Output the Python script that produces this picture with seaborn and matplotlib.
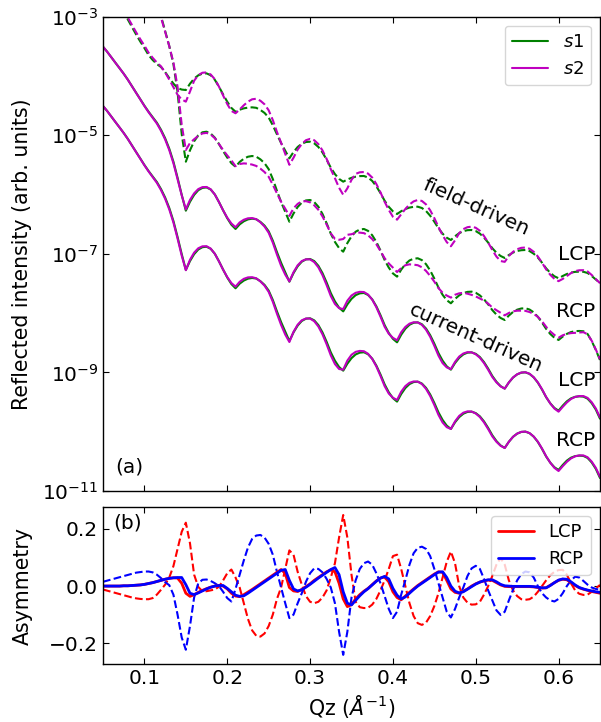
import numpy as np
import matplotlib
matplotlib.use("Agg")
import matplotlib.pyplot as plt
import seaborn as sns
from matplotlib.ticker import NullLocator

# Qz grid (1/Angstrom), 0.005 steps
qz = np.linspace(0.05, 0.65, 121)

# log10 of reflected intensity, state s1 (as plotted, stacked for clarity)
field_lcp_s1 = [
    -2.246, -2.381, -2.516, -2.651, -2.777, -2.904, -3.047, -3.174, -3.300, -3.418,
    -3.528, -3.646, -3.730, -3.798, -3.848, -3.933, -4.034, -4.127, -4.202, -4.228,
    -4.236, -4.130, -4.044, -3.988, -3.960, -3.955, -3.987, -4.064, -4.180, -4.310,
    -4.433, -4.538, -4.602, -4.568, -4.545, -4.533, -4.528, -4.536, -4.572, -4.622,
    -4.700, -4.830, -4.983, -5.130, -5.260, -5.388, -5.282, -5.197, -5.142, -5.113,
    -5.108, -5.135, -5.196, -5.290, -5.411, -5.546, -5.654, -5.735, -5.782, -5.745,
    -5.717, -5.698, -5.688, -5.686, -5.712, -5.769, -5.860, -5.975, -6.103, -6.206,
    -6.282, -6.327, -6.280, -6.243, -6.219, -6.206, -6.204, -6.226, -6.277, -6.356,
    -6.457, -6.568, -6.659, -6.727, -6.766, -6.702, -6.651, -6.617, -6.600, -6.597,
    -6.615, -6.658, -6.725, -6.809, -6.904, -6.980, -7.035, -7.069, -7.019, -6.978,
    -6.951, -6.938, -6.934, -6.953, -6.997, -7.062, -7.148, -7.244, -7.320, -7.378,
    -7.411, -7.373, -7.339, -7.315, -7.303, -7.300, -7.302, -7.322, -7.373, -7.432,
    -7.491]

field_rcp_s1 = [
    -1.167, -1.235, -1.319, -1.403, -1.487, -1.589, -1.690, -1.808, -1.926, -2.061,
    -2.213, -2.381, -2.567, -2.769, -2.988, -3.241, -3.494, -3.798, -4.270, -4.978,
    -5.445, -5.253, -5.101, -5.000, -4.949, -4.939, -4.970, -5.040, -5.147, -5.265,
    -5.376, -5.470, -5.530, -5.449, -5.395, -5.361, -5.349, -5.361, -5.405, -5.470,
    -5.570, -5.737, -5.936, -6.125, -6.290, -6.457, -6.319, -6.209, -6.135, -6.098,
    -6.091, -6.126, -6.204, -6.327, -6.484, -6.658, -6.798, -6.902, -6.963, -6.818,
    -6.703, -6.626, -6.589, -6.580, -6.612, -6.685, -6.798, -6.943, -7.103, -7.231,
    -7.329, -7.384, -7.266, -7.174, -7.111, -7.081, -7.074, -7.105, -7.174, -7.280,
    -7.416, -7.568, -7.690, -7.781, -7.833, -7.759, -7.700, -7.661, -7.641, -7.637,
    -7.656, -7.700, -7.766, -7.852, -7.948, -8.024, -8.081, -8.115, -8.040, -7.980,
    -7.941, -7.921, -7.917, -7.939, -7.986, -8.062, -8.158, -8.265, -8.351, -8.415,
    -8.452, -8.395, -8.349, -8.319, -8.303, -8.300, -8.305, -8.351, -8.469, -8.621,
    -8.789]

# current-driven s1 (RCP as plotted; LCP shifted up one decade)
current_s1 = [
    -4.506, -4.590, -4.683, -4.776, -4.868, -4.961, -5.062, -5.172, -5.282, -5.391,
    -5.501, -5.602, -5.695, -5.787, -5.906, -6.049, -6.226, -6.445, -6.715, -7.002,
    -7.271, -7.121, -7.005, -6.926, -6.887, -6.879, -6.914, -6.998, -7.125, -7.265,
    -7.398, -7.509, -7.580, -7.502, -7.450, -7.418, -7.406, -7.416, -7.460, -7.523,
    -7.619, -7.777, -7.970, -8.150, -8.310, -8.469, -8.324, -8.209, -8.131, -8.093,
    -8.086, -8.121, -8.201, -8.325, -8.484, -8.661, -8.801, -8.907, -8.970, -8.852,
    -8.759, -8.696, -8.666, -8.659, -8.693, -8.767, -8.884, -9.034, -9.201, -9.334,
    -9.433, -9.492, -9.364, -9.263, -9.196, -9.162, -9.155, -9.187, -9.260, -9.371,
    -9.514, -9.673, -9.801, -9.897, -9.953, -9.841, -9.754, -9.696, -9.666, -9.661,
    -9.686, -9.740, -9.826, -9.936, -10.059, -10.157, -10.231, -10.273, -10.169, -10.086,
    -10.032, -10.003, -9.998, -10.024, -10.083, -10.172, -10.288, -10.418, -10.521, -10.599,
    -10.644, -10.560, -10.487, -10.437, -10.411, -10.403, -10.408, -10.442, -10.518, -10.627,
    -10.779]
current_lcp_shift = 10.0

# asymmetry (s1 - s2) / (s1 + s2)
asym_field_lcp = [
    -0.012, -0.016, -0.020, -0.024, -0.028, -0.032, -0.036, -0.040, -0.043, -0.045,
    -0.046, -0.046, -0.042, -0.030, -0.013, 0.005, 0.030, 0.070, 0.130, 0.190,
    0.222, 0.150, 0.040, -0.003, -0.018, -0.018, -0.015, -0.012, -0.002, 0.020,
    0.045, 0.058, 0.030, -0.005, -0.060, -0.115, -0.155, -0.174, -0.177, -0.166,
    -0.140, -0.100, -0.045, -0.005, 0.060, 0.125, 0.110, 0.050, 0.005, -0.035,
    -0.055, -0.060, -0.055, -0.040, -0.015, 0.030, 0.080, 0.170, 0.249, 0.170,
    0.040, -0.055, -0.074, -0.077, -0.076, -0.065, -0.045, -0.015, 0.020, 0.060,
    0.105, 0.110, 0.060, 0.000, -0.060, -0.105, -0.130, -0.136, -0.128, -0.105,
    -0.070, -0.025, 0.030, 0.085, 0.121, 0.080, 0.000, -0.040, -0.058, -0.065,
    -0.064, -0.055, -0.030, 0.000, 0.035, 0.075, 0.098, 0.075, 0.020, -0.015,
    -0.035, -0.046, -0.048, -0.046, -0.037, -0.020, 0.000, 0.020, 0.038, 0.050,
    0.056, 0.057, 0.040, 0.010, -0.015, -0.027, -0.031, -0.030, -0.020, -0.008,
    0.004]

asym_field_rcp = [
    0.015, 0.019, 0.023, 0.027, 0.031, 0.035, 0.039, 0.043, 0.047, 0.049,
    0.051, 0.051, 0.048, 0.040, 0.028, 0.014, 0.003, -0.030, -0.100, -0.180,
    -0.223, -0.140, -0.040, 0.010, 0.022, 0.023, 0.018, 0.010, 0.000, -0.020,
    -0.042, -0.054, -0.010, 0.040, 0.090, 0.135, 0.165, 0.177, 0.179, 0.170,
    0.148, 0.110, 0.050, -0.005, -0.060, -0.112, -0.100, -0.060, -0.025, 0.015,
    0.045, 0.062, 0.060, 0.048, 0.025, -0.005, -0.060, -0.160, -0.241, -0.160,
    -0.040, 0.020, 0.060, 0.080, 0.086, 0.075, 0.045, 0.010, -0.035, -0.080,
    -0.112, -0.090, -0.030, 0.020, 0.075, 0.115, 0.134, 0.138, 0.130, 0.105,
    0.060, 0.010, -0.040, -0.090, -0.110, -0.080, -0.040, -0.005, 0.035, 0.062,
    0.071, 0.060, 0.025, -0.015, -0.050, -0.085, -0.101, -0.090, -0.050, -0.013,
    0.020, 0.042, 0.051, 0.048, 0.030, 0.000, -0.025, -0.040, -0.050, -0.054,
    -0.045, -0.025, 0.000, 0.020, 0.033, 0.030, 0.018, 0.005, -0.005, -0.010,
    -0.013]

asym_current_lcp = [
    0.000, 0.000, 0.000, 0.000, 0.000, 0.001, 0.001, 0.002, 0.003, 0.004,
    0.006, 0.009, 0.012, 0.016, 0.020, 0.024, 0.027, 0.029, 0.028, 0.010,
    -0.025, -0.036, -0.030, -0.022, -0.015, -0.009, -0.004, 0.000, 0.002, 0.000,
    -0.010, -0.025, -0.035, -0.037, -0.030, -0.021, -0.012, -0.002, 0.008, 0.018,
    0.028, 0.038, 0.048, 0.058, 0.045, -0.005, -0.017, -0.019, -0.012, -0.002,
    0.008, 0.020, 0.030, 0.040, 0.050, 0.057, 0.050, 0.010, -0.045, -0.072,
    -0.065, -0.045, -0.030, -0.018, -0.008, 0.005, 0.018, 0.028, 0.032, 0.015,
    -0.020, -0.040, -0.048, -0.035, -0.022, -0.010, 0.002, 0.012, 0.022, 0.032,
    0.042, 0.050, 0.048, 0.020, -0.010, -0.022, -0.025, -0.018, -0.010, 0.000,
    0.008, 0.014, 0.018, 0.021, 0.020, 0.012, 0.004, -0.001, -0.002, -0.002,
    -0.002, -0.002, -0.002, -0.002, -0.003, -0.005, -0.007, -0.006, 0.003, 0.012,
    0.020, 0.024, 0.022, 0.012, 0.002, -0.006, -0.011, -0.015, -0.019, -0.022,
    -0.025]

asym_current_rcp = [
    0.000, 0.000, 0.000, 0.000, 0.000, 0.001, 0.001, 0.002, 0.003, 0.004,
    0.006, 0.009, 0.012, 0.016, 0.020, 0.024, 0.027, 0.029, 0.030, 0.030,
    0.005, -0.025, -0.030, -0.024, -0.017, -0.010, -0.004, 0.000, 0.002, 0.002,
    -0.008, -0.020, -0.032, -0.036, -0.034, -0.025, -0.015, -0.005, 0.005, 0.015,
    0.025, 0.035, 0.045, 0.055, 0.058, 0.020, -0.010, -0.017, -0.013, -0.004,
    0.006, 0.017, 0.028, 0.038, 0.048, 0.058, 0.065, 0.040, -0.020, -0.060,
    -0.066, -0.050, -0.034, -0.020, -0.009, 0.004, 0.017, 0.028, 0.034, 0.025,
    -0.008, -0.032, -0.045, -0.038, -0.025, -0.012, 0.000, 0.010, 0.020, 0.030,
    0.040, 0.049, 0.050, 0.030, 0.000, -0.018, -0.024, -0.020, -0.011, -0.002,
    0.007, 0.014, 0.019, 0.022, 0.022, 0.015, 0.006, 0.001, 0.000, -0.001,
    -0.001, -0.001, -0.001, -0.001, -0.002, -0.004, -0.006, -0.006, 0.002, 0.012,
    0.021, 0.025, 0.024, 0.015, 0.004, -0.005, -0.010, -0.014, -0.017, -0.020,
    -0.022]


def pair(log_s1, asym, shift=1.0):
    s1 = shift * 10 ** np.array(log_s1)
    a = np.array(asym)
    s2 = s1 * (1 - a) / (1 + a)
    return s1, s2


sns.set_style("ticks")
plt.rcParams.update({
    "font.family": "DejaVu Sans",
    "text.color": "black",
    "axes.labelcolor": "black",
    "axes.edgecolor": "black",
    "axes.linewidth": 1.0,
    "xtick.color": "black",
    "ytick.color": "black",
})

fs = 14.5
fig = plt.figure(figsize=(6.01, 7.22), dpi=100)
ax1 = fig.add_axes([0.1714, 0.3199, 0.8269, 0.6569])
ax2 = fig.add_axes([0.1714, 0.0803, 0.8269, 0.2175])

curves = [
    (field_lcp_s1, asym_field_lcp, 1.0, "--"),
    (field_rcp_s1, asym_field_rcp, 1.0, "--"),
    (current_s1, asym_current_lcp, current_lcp_shift, "-"),
    (current_s1, asym_current_rcp, 1.0, "-"),
]
for log_s1, asym, shift, ls in curves:
    s1, s2 = pair(log_s1, asym, shift)
    sns.lineplot(x=qz, y=s1, ax=ax1, color="g", linestyle=ls, lw=1.5)
    sns.lineplot(x=qz, y=s2, ax=ax1, color="m", linestyle=ls, lw=1.5)

h_s1, h_s2 = ax1.lines[-2], ax1.lines[-1]

ax1.set_yscale("log")
ax1.set_ylim(1e-11, 1e-3)
ax1.set_xlim(0.05, 0.65)
ax1.set_yticks([1e-3, 1e-5, 1e-7, 1e-9, 1e-11])
ax1.yaxis.set_minor_locator(NullLocator())
ax1.set_xticks([0.1, 0.2, 0.3, 0.4, 0.5, 0.6])
ax1.tick_params(which="both", direction="in", top=True, right=True,
                labelbottom=False, labelsize=fs, length=4)
ax1.set_ylabel("Reflected intensity (arb. units)", fontsize=14.8)
ax1.yaxis.set_label_coords(-0.142, 0.5)
ax1.legend([h_s1, h_s2], ["$s1$", "$s2$"], loc="upper right", fontsize=13)

ax1.text(0.99, 0.4997, "LCP", transform=ax1.transAxes, ha="right", va="center", fontsize=fs)
ax1.text(0.99, 0.3795, "RCP", transform=ax1.transAxes, ha="right", va="center", fontsize=fs)
ax1.text(0.99, 0.234, "LCP", transform=ax1.transAxes, ha="right", va="center", fontsize=fs)
ax1.text(0.99, 0.1075, "RCP", transform=ax1.transAxes, ha="right", va="center", fontsize=fs)
ax1.text(0.750, 0.599, "field-driven", transform=ax1.transAxes, ha="center", va="center",
         rotation=-24, rotation_mode="anchor", fontsize=fs)
ax1.text(0.750, 0.3226, "current-driven", transform=ax1.transAxes, ha="center", va="center",
         rotation=-24, rotation_mode="anchor", fontsize=fs)
ax1.text(0.024, 0.051, "(a)", transform=ax1.transAxes, ha="left", va="center", fontsize=fs)

# bottom panel: asymmetry
sns.lineplot(x=qz, y=asym_field_lcp, ax=ax2, color="r", linestyle="--", lw=1.5)
sns.lineplot(x=qz, y=asym_field_rcp, ax=ax2, color="b", linestyle="--", lw=1.5)
sns.lineplot(x=qz, y=asym_current_lcp, ax=ax2, color="r", linestyle="-", lw=2)
h_l = ax2.lines[-1]
sns.lineplot(x=qz, y=asym_current_rcp, ax=ax2, color="b", linestyle="-", lw=2)
h_r = ax2.lines[-1]

ax2.set_xlim(0.05, 0.65)
ax2.set_ylim(-0.273, 0.277)
ax2.set_xticks([0.1, 0.2, 0.3, 0.4, 0.5, 0.6])
ax2.set_yticks([-0.2, 0.0, 0.2])
ax2.tick_params(which="both", direction="in", top=True, right=True, labelsize=fs, length=4)
ax2.set_ylabel("Asymmetry", fontsize=14.8)
ax2.yaxis.set_label_coords(-0.142, 0.5)
ax2.set_xlabel(r"Qz ($\AA^{-1}$)", fontsize=14.8)
ax2.legend([h_l, h_r], ["LCP", "RCP"], loc="upper right", fontsize=13)
ax2.text(0.02, 0.90, "(b)", transform=ax2.transAxes, ha="left", va="center", fontsize=fs)

for ax in (ax1, ax2):
    for sp in ax.spines.values():
        sp.set_visible(True)

fig.savefig("out.png", dpi=100)
